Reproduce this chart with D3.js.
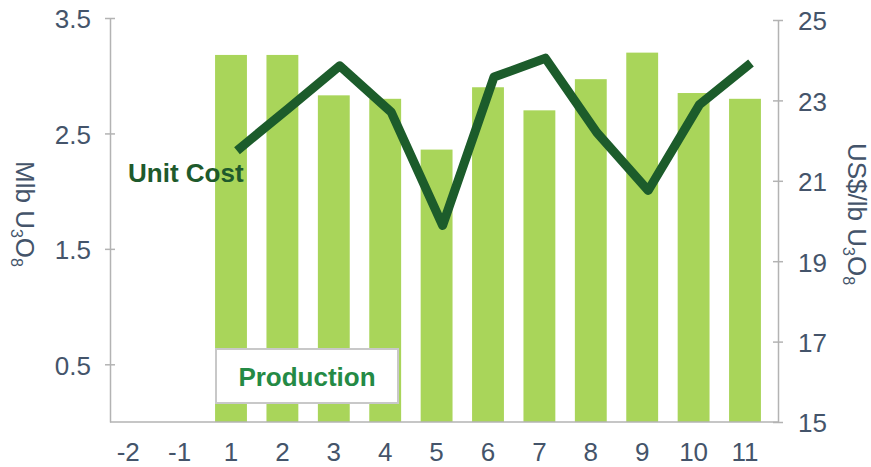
<!DOCTYPE html>
<html>
<head>
<meta charset="utf-8">
<title>Production and Unit Cost</title>
<script src="https://d3js.org/d3.v7.min.js"></script>
<style>
    body { margin: 0; background: #fff; }
    svg { font-family: "Liberation Sans", Arial, sans-serif; }
    .tick text { fill: #44546A; font-size: 26px; }
    .tick line, .domain { stroke: #B3B3B3; stroke-width: 1.5; }
</style>
</head>
<body>
<script>
// periods on the x axis
var categories = ["-2", "-1", "1", "2", "3", "4", "5", "6", "7", "8", "9", "10", "11"];
// production, Mlb U3O8 (left axis)
var production = [null, null, 3.18, 3.18, 2.83, 2.80, 2.36, 2.90, 2.70, 2.97, 3.20, 2.85, 2.80];
// unit cost, US$/lb U3O8 (right axis)
var unitCost = [null, null, 21.75, 22.8, 23.86, 22.71, 19.89, 23.58, 24.05, 22.2, 20.76, 22.9, 23.93];
var leftTicks = [0.5, 1.5, 2.5, 3.5];
var rightTicks = [15, 17, 19, 21, 23, 25];

var width = 871, height = 467;
var plot = {left: 110, right: 778, bottom: 422};

var svg = d3.select("body").append("svg")
    .attr("width", width)
    .attr("height", height);

var x = d3.scaleBand()
    .domain(categories)
    .range([102.5, 102.5 + 51.4 * categories.length])
    .paddingInner(0.38)
    .paddingOuter(0.19);

// the line sits a few pixels right of the bar centres in the original
var xLine = x.copy().range(x.range().map(v => v + 6));

var yL = d3.scaleLinear().domain([0, 3.5]).range([plot.bottom, 18]);
var yR = d3.scaleLinear().domain([15, 25]).range([plot.bottom, 20]);

var rows = categories.map((c, i) => ({cat: c, prod: production[i], cost: unitCost[i]}));

// bars
svg.append("g")
    .selectAll("rect")
    .data(rows.filter(d => d.prod != null))
    .enter()
    .append("rect")
        .attr("x", d => x(d.cat))
        .attr("y", d => yL(d.prod))
        .attr("width", x.bandwidth())
        .attr("height", d => yL(0) - yL(d.prod))
        .style("fill", "#A9D55A");

// left axis
var gL = svg.append("g")
    .attr("transform", "translate(" + plot.left + ",0)")
    .call(d3.axisLeft(yL).tickValues(leftTicks).tickFormat(d3.format(".1f"))
        .tickSizeInner(5).tickSizeOuter(0).tickPadding(14));
gL.selectAll(".tick line").attr("x1", 5).attr("x2", -5);
gL.selectAll(".tick text").attr("dy", "0.38em");

// right axis
var gR = svg.append("g")
    .attr("transform", "translate(" + plot.right + ",0)")
    .call(d3.axisRight(yR).tickValues(rightTicks)
        .tickSizeInner(5).tickSizeOuter(0).tickPadding(15));
gR.selectAll(".tick line").attr("x1", -5).attr("x2", 5);
gR.selectAll(".tick text").attr("dy", "0.38em");

// bottom axis
var gB = svg.append("g")
    .attr("transform", "translate(0," + plot.bottom + ")")
    .call(d3.axisBottom(x).tickSize(0).tickPadding(21));
gB.select(".domain").remove();
svg.append("line")
    .attr("x1", plot.left).attr("x2", plot.right)
    .attr("y1", plot.bottom).attr("y2", plot.bottom)
    .style("stroke", "#B3B3B3").style("stroke-width", 1.5);

// unit cost line
var line = d3.line()
    .defined(d => d.cost != null)
    .x(d => xLine(d.cat) + xLine.bandwidth() / 2)
    .y(d => yR(d.cost));

svg.append("path")
    .datum(rows)
    .attr("d", line)
    .style("fill", "none")
    .style("stroke", "#1C5C2B")
    .style("stroke-width", 9)
    .style("stroke-linejoin", "round");

// labels
svg.append("text")
    .attr("x", 128).attr("y", 182)
    .style("font-size", "26px").style("font-weight", "bold")
    .style("fill", "#1E5A2C")
    .text("Unit Cost");

svg.append("rect")
    .attr("x", 216).attr("y", 349)
    .attr("width", 182).attr("height", 54)
    .style("fill", "#fff").style("stroke", "#C8C8C8").style("stroke-width", 2);
svg.append("text")
    .attr("x", 307).attr("y", 386)
    .attr("text-anchor", "middle")
    .style("font-size", "26px").style("font-weight", "bold")
    .style("fill", "#248A45")
    .text("Production");

// axis titles, with subscripts
function axisTitle(tx, ty, parts) {
    var t = svg.append("text")
        .attr("transform", "translate(" + tx + "," + ty + ") rotate(90)")
        .attr("text-anchor", "middle")
        .style("fill", "#44546A")
        .style("font-size", "26px");
    parts.forEach(p => {
        var s = t.append("tspan").text(p[0]);
        if (p[1]) s.style("font-size", "16px").attr("dy", 5);
        else s.attr("dy", p[2] || 0);
    });
}
axisTitle(16, 214, [["Mlb U", false], ["3", true], ["O", false, -5], ["8", true]]);
axisTitle(848, 214, [["US$/lb U", false], ["3", true], ["O", false, -5], ["8", true]]);
</script>
</body>
</html>
